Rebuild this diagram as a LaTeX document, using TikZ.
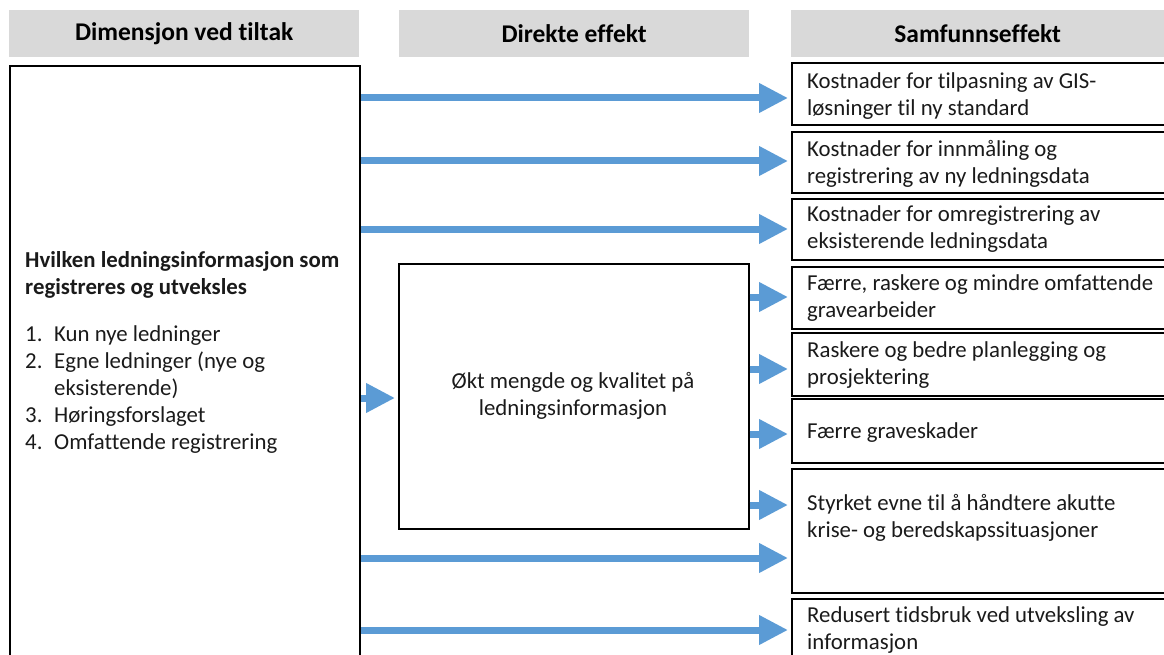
\documentclass[tikz,border=0pt]{standalone}
\usepackage{fontspec}
\setmainfont{Carlito}[Ligatures={NoCommon}]
\usetikzlibrary{arrows.meta}
\definecolor{arrblue}{HTML}{5B9BD5}
\definecolor{hdrgray}{HTML}{D9D9D9}
\definecolor{txt}{HTML}{1A1A1A}
\begin{document}
\begin{tikzpicture}[x=1pt,y=-1pt,
  hdr/.style={fill=hdrgray, minimum width=350pt, minimum height=47pt, anchor=north west, inner sep=0pt, text=black, font=\fontsize{25.5}{30}\selectfont\bfseries},
  box/.style={draw=black, line width=1.6pt, anchor=north west, inner sep=0pt},
  rbox/.style={box, minimum width=420pt},
  txtnode/.style={anchor=west, inner sep=0pt, align=left, text=txt, font=\fontsize{22.8}{27}\selectfont},
  arr/.style={draw=arrblue, line width=7pt, shorten >=3pt, -{Triangle[length=29pt,width=28pt]}}
]
\useasboundingbox (0,0) rectangle (1164,655);
\clip (0,0) rectangle (1164,655);

% headers
\node[hdr] (H1) at (9,10) {Dimensjon ved tiltak};
\node[hdr] (H2) at (399,10) {Direkte effekt};
\node[hdr, minimum width=373pt] (H3) at (791,10) {Samfunnseffekt};

% left box
\node[box, line width=2pt, minimum width=350pt, minimum height=620pt] (L) at (9,65) {};
\node[txtnode] (Lt) at (25,352) {\textbf{Hvilken ledningsinformasjon som}\\
\textbf{registreres og utveksles}\\[20pt]
\makebox[29pt][l]{1.}Kun nye ledninger\\
\makebox[29pt][l]{2.}Egne ledninger (nye og\\
\hspace*{29pt}eksisterende)\\
\makebox[29pt][l]{3.}Høringsforslaget\\
\makebox[29pt][l]{4.}Omfattende registrering};

% middle box
\node[box, minimum width=350pt, minimum height=265pt] (M) at (398,263) {};
\node[txtnode, anchor=center, align=center] (Mt) at (573,396) {Økt mengde og kvalitet på\\ledningsinformasjon};

% right boxes
\node[rbox, minimum height=62pt] (R1) at (791,62) {};
\node[rbox, minimum height=61pt] (R2) at (791,131) {};
\node[rbox, minimum height=61pt] (R3) at (791,198) {};
\node[rbox, minimum height=62pt] (R4) at (791,266) {};
\node[rbox, minimum height=63pt] (R5) at (791,332) {};
\node[rbox, minimum height=64pt] (R6) at (791,398) {};
\node[rbox, minimum height=124pt] (R7) at (791,468) {};
\node[rbox, minimum height=90pt] (R8) at (791,598) {};

\node[txtnode] (R1t) at (807,96) {Kostnader for tilpasning av GIS-\\løsninger til ny standard};
\node[txtnode] (R2t) at (807,164) {Kostnader for innmåling og\\registrering av ny ledningsdata};
\node[txtnode] (R3t) at (807,229) {Kostnader for omregistrering av\\eksisterende ledningsdata};
\node[txtnode] (R4t) at (807,298) {Færre, raskere og mindre omfattende\\gravearbeider};
\node[txtnode] (R5t) at (807,365) {Raskere og bedre planlegging og\\prosjektering};
\node[txtnode] (R6t) at (807,433) {Færre graveskader};
\node[txtnode] (R7t) at (807,518) {Styrket evne til å håndtere akutte\\krise- og beredskapssituasjoner};
\node[txtnode] (R8t) at (807,630) {Redusert tidsbruk ved utveksling av\\informasjon};

% arrows
\draw[arr] (L.east |- 0,98) -- (R1.west |- 0,98);
\draw[arr] (L.east |- 0,161) -- (R2.west |- 0,161);
\draw[arr] (L.east |- 0,229) -- (R3.west |- 0,229);
\draw[arr] (L.east |- 0,398) -- (M.west |- 0,398);
\draw[arr] (M.east |- 0,297) -- (R4.west |- 0,297);
\draw[arr] (M.east |- 0,369) -- (R5.west |- 0,369);
\draw[arr] (M.east |- 0,434) -- (R6.west |- 0,434);
\draw[arr] (M.east |- 0,505) -- (R7.west |- 0,505);
\draw[arr] (L.east |- 0,558) -- (R7.west |- 0,558);
\draw[arr] (L.east |- 0,630) -- (R8.west |- 0,630);
\end{tikzpicture}
\end{document}
